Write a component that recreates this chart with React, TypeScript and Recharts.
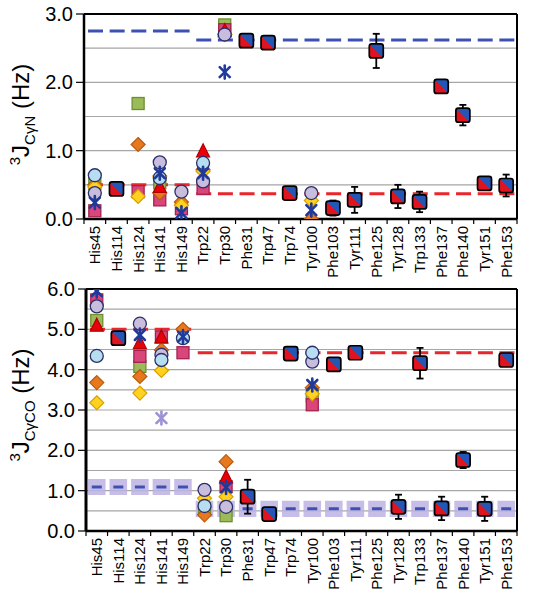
import React from 'react';
import { ScatterChart, Scatter, XAxis, YAxis, CartesianGrid, ReferenceLine, ErrorBar } from 'recharts';

const FONT = '"Liberation Sans", Arial, sans-serif';

const residues = [
  'His45', 'His114', 'His124', 'His141', 'His149', 'Trp22', 'Trp30', 'Phe31', 'Trp47', 'Trp74',
  'Tyr100', 'Phe103', 'Tyr111', 'Phe125', 'Tyr128', 'Trp133', 'Phe137', 'Phe140', 'Tyr151', 'Phe153',
];

// residues that carry the coloured per-model points
const multiResidues = ['His45', 'His124', 'His141', 'His149', 'Trp22', 'Trp30', 'Tyr100'];

type V = number | null;

// 3J(CγN) - one value per multiResidues entry
const greenN: V[] = [0.52, 1.69, 0.53, null, null, 2.84, null];
const crimsonN: V[] = [0.12, 0.4, 0.28, 0.15, 0.45, 2.77, null];
const orangeN: V[] = [0.5, 1.09, 0.38, 0.25, 0.72, 2.7, 0.0];
const yellowN: V[] = [0.47, 0.33, 0.63, 0.2, 0.7, 2.7, 0.27];
const redTriN: V[] = [null, null, 0.47, null, 0.99, 2.75, null];
const lavenderN: V[] = [0.38, null, 0.83, 0.4, 0.55, 2.7, 0.38];
const lightBlueN: V[] = [0.64, null, 0.6, null, 0.82, null, null];
const blueStarN: V[] = [0.24, null, 0.67, 0.09, 0.67, 2.15, 0.13];
const purpleStarN: V[] = [null, null, null, null, null, null, null];

// 3J(CγCO)
const greenCO: V[] = [5.22, 4.08, null, null, 0.55, 0.38, 3.35];
const crimsonCO: V[] = [5.73, 4.33, 4.81, 4.42, null, 1.1, 3.13];
const orangeCO: V[] = [3.68, 3.83, 4.49, 5.0, 0.4, 1.72, 3.55];
const yellowCO: V[] = [3.18, 3.42, 3.98, null, 0.81, 0.85, 3.4];
const redTriCO: V[] = [5.09, 4.66, 4.8, null, null, 1.33, null];
const lavenderCO: V[] = [5.57, 5.14, 4.37, null, 1.02, 0.6, 4.2];
const lightBlueCO: V[] = [4.34, null, 4.24, 4.78, 0.62, null, 4.42];
const blueStarCO: V[] = [5.95, 4.86, null, 4.82, null, 1.08, 3.62];
const purpleStarCO: V[] = [null, null, 2.8, null, null, null, null];

// experimental values
const expNames_N = ['His114', 'Phe31', 'Trp47', 'Trp74', 'Phe103', 'Tyr111', 'Phe125', 'Tyr128', 'Trp133', 'Phe137', 'Phe140', 'Tyr151', 'Phe153'];
const expN = [0.44, 2.61, 2.58, 0.38, 0.16, 0.28, 2.46, 0.33, 0.25, 1.94, 1.52, 0.52, 0.49];
const expErrN = [0, 0, 0, 0, 0.11, 0.19, 0.25, 0.17, 0.15, 0, 0.15, 0, 0.16];

const expNames_CO = ['His114', 'Phe31', 'Trp47', 'Trp74', 'Phe103', 'Tyr111', 'Tyr128', 'Trp133', 'Phe137', 'Phe140', 'Tyr151', 'Phe153'];
const expCO = [4.78, 0.85, 0.42, 4.4, 4.13, 4.42, 0.6, 4.16, 0.56, 1.76, 0.55, 4.24];
const expErrCO = [0, 0.42, 0, 0, 0, 0, 0.3, 0.38, 0.29, 0.2, 0.3, 0];

// averages: [His block, aromatic block]
const blueAvgN = [2.75, 2.62];
const redAvgN = [0.5, 0.37];
const redAvgCO = [5.0, 4.42];
const blueAvgCO = [1.09, 0.55];
const blueBandCO = 0.2;

const multiPoints = (vals: V[]) =>
  multiResidues
    .map((r, i) => ({ x: residues.indexOf(r) + 0.5, y: vals[i] }))
    .filter((p) => p.y !== null);

const expPoints = (names: string[], vals: number[], errs: number[]) =>
  names.map((r, i) => ({ x: residues.indexOf(r) + 0.5, y: vals[i], err: errs[i] }));

// marker shapes
const circle = (fill: string) => (p: any) => (
  <circle cx={p.cx} cy={p.cy} r={6.5} fill={fill} stroke="#2b2f6b" strokeWidth={1.3} />
);
const square = (fill: string, stroke: string) => (p: any) => (
  <rect x={p.cx - 6} y={p.cy - 6} width={12} height={12} fill={fill} stroke={stroke} strokeWidth={1.3} />
);
const diamond = (fill: string, stroke: string) => (p: any) => (
  <path d={`M${p.cx},${p.cy - 7}L${p.cx + 7},${p.cy}L${p.cx},${p.cy + 7}L${p.cx - 7},${p.cy}Z`} fill={fill} stroke={stroke} strokeWidth={1.2} />
);
const triangle = (fill: string, stroke: string) => (p: any) => (
  <path d={`M${p.cx},${p.cy - 7.5}L${p.cx + 6.5},${p.cy + 5.5}L${p.cx - 6.5},${p.cy + 5.5}Z`} fill={fill} stroke={stroke} strokeWidth={1.2} />
);
const star = (color: string) => (p: any) => {
  const s = 5;
  return (
    <g stroke={color} strokeWidth={2.6} strokeLinecap="round">
      <line x1={p.cx - s} y1={p.cy - s} x2={p.cx + s} y2={p.cy + s} />
      <line x1={p.cx - s} y1={p.cy + s} x2={p.cx + s} y2={p.cy - s} />
      <line x1={p.cx} y1={p.cy - s - 1.5} x2={p.cx} y2={p.cy + s + 1.5} />
    </g>
  );
};
const expMarker = (p: any) => {
  const h = 7;
  const { cx, cy } = p;
  return (
    <g>
      <rect x={cx - h} y={cy - h} width={2 * h} height={2 * h} rx={2.5} fill="#2457b5" />
      <path d={`M${cx - h},${cy - h}L${cx + h},${cy + h}L${cx - h},${cy + h}Z`} fill="#e0141e" />
      <rect x={cx - h} y={cy - h} width={2 * h} height={2 * h} rx={2.5} fill="none" stroke="#000" strokeWidth={1.7} />
    </g>
  );
};

const XTick = (p: any) => {
  const i = p.payload.value;
  if (i >= residues.length) return <g />;
  return (
    <text
      transform={`translate(${p.x + p.step / 2},${p.y}) rotate(-90)`}
      textAnchor="end"
      dy="0.36em"
      fontSize={15}
      fontFamily={FONT}
      fill="#000"
    >
      {residues[i]}
    </text>
  );
};

const yTitle = (sub: string, cyOffset: number) => (props: any) => {
  const vb = props.viewBox;
  const cy = vb.y + vb.height / 2 + cyOffset;
  return (
    <text transform={`translate(29,${cy}) rotate(-90)`} textAnchor="middle" fontSize={24} fontFamily={FONT} fill="#000">
      <tspan fontSize={15} dy={-9}>3</tspan>
      <tspan dy={9}>J</tspan>
      <tspan fontSize={15} dy={6}>{sub}</tspan>
      <tspan dy={-6}> (Hz)</tspan>
    </text>
  );
};

const xTicks = Array.from({ length: 21 }, (_, i) => i);
const W = 535;
const RIGHT = 18;

const Panel = ({ cfg }: { cfg: any }) => {
  const plotW = W - cfg.left - RIGHT;
  const step = plotW / 20;
  const plotH = cfg.height - cfg.marginTop - cfg.xHeight;
  const ppu = plotH / cfg.yMax;
  const lineDash = `15 ${step - 15}`;
  const lineOffset = step - 4;
  return (
    <ScatterChart width={W} height={cfg.height} margin={{ top: cfg.marginTop, right: RIGHT, bottom: 0, left: 0 }}>
      <CartesianGrid horizontal vertical={false} horizontalValues={cfg.grid} stroke="#a6a6a6" strokeWidth={1.2} />
      <XAxis
        type="number"
        dataKey="x"
        domain={[0, 20]}
        ticks={xTicks}
        interval={0}
        height={cfg.xHeight}
        tick={(p: any) => <XTick {...p} step={step} />}
        tickSize={5}
        tickMargin={2}
        axisLine={{ stroke: '#000', strokeWidth: 2.5 }}
        tickLine={{ stroke: '#000', strokeWidth: 1.2 }}
        allowDataOverflow
      />
      <YAxis
        type="number"
        dataKey="y"
        domain={[0, cfg.yMax]}
        ticks={cfg.yTicks}
        interval={0}
        width={cfg.left}
        tickFormatter={(v: number) => v.toFixed(1)}
        tick={{ fill: '#000', fontSize: 20, fontFamily: FONT }}
        tickSize={8}
        tickMargin={3}
        axisLine={{ stroke: '#000', strokeWidth: cfg.axisW }}
        tickLine={{ stroke: '#000', strokeWidth: 1.2 }}
        label={yTitle(cfg.sub, cfg.titleShift)}
        allowDataOverflow
      />
      <ReferenceLine y={cfg.yMax} stroke="#000" strokeWidth={2} />
      <ReferenceLine x={20} stroke="#000" strokeWidth={2} />
      {cfg.band &&
        cfg.blue.map((v: number, k: number) => (
          <ReferenceLine
            key={'band' + k}
            segment={[{ x: k === 0 ? 0 : 5, y: v }, { x: k === 0 ? 5 : 20, y: v }]}
            stroke="#bdb3e4"
            strokeOpacity={0.85}
            strokeWidth={2 * cfg.band * ppu}
            strokeDasharray={`${step - 4} 4`}
            strokeDashoffset={step - 2}
          />
        ))}
      {cfg.blue.map((v: number, k: number) => (
        <ReferenceLine
          key={'blue' + k}
          segment={[{ x: k === 0 ? 0 : 5, y: v }, { x: k === 0 ? 5 : 20, y: v }]}
          stroke="#3f50b5"
          strokeWidth={3}
          strokeDasharray={cfg.band ? `10 ${step - 10}` : lineDash}
          strokeDashoffset={cfg.band ? 10 + (step - 10) / 2 : lineOffset}
        />
      ))}
      {cfg.red.map((v: number, k: number) => (
        <ReferenceLine
          key={'red' + k}
          segment={[{ x: k === 0 ? 0 : 5, y: v }, { x: k === 0 ? 5 : 20, y: v }]}
          stroke="#e8262b"
          strokeWidth={3}
          strokeDasharray={lineDash}
          strokeDashoffset={lineOffset}
        />
      ))}
      <Scatter data={multiPoints(cfg.green)} shape={square('#9bbb59', '#6e8e2f')} isAnimationActive={false} />
      <Scatter data={multiPoints(cfg.crimson)} shape={square('#d9467a', '#a3224f')} isAnimationActive={false} />
      <Scatter data={multiPoints(cfg.orange)} shape={diamond('#e8781e', '#b85a10')} isAnimationActive={false} />
      <Scatter data={multiPoints(cfg.yellow)} shape={diamond('#ffd21f', '#d9a000')} isAnimationActive={false} />
      <Scatter data={multiPoints(cfg.redTri)} shape={triangle('#e8000b', '#b00000')} isAnimationActive={false} />
      <Scatter data={multiPoints(cfg.lavender)} shape={circle('#c9bddd')} isAnimationActive={false} />
      <Scatter data={multiPoints(cfg.lightBlue)} shape={circle('#b7ddf0')} isAnimationActive={false} />
      <Scatter data={multiPoints(cfg.blueStar)} shape={star('#1f3a9a')} isAnimationActive={false} />
      <Scatter data={multiPoints(cfg.purpleStar)} shape={star('#9c92d6')} isAnimationActive={false} />
      <Scatter data={cfg.exp} shape={expMarker} isAnimationActive={false}>
        <ErrorBar dataKey="err" direction="y" width={3.5} stroke="#000" strokeWidth={1.8} />
      </Scatter>
    </ScatterChart>
  );
};

const topCfg = {
  height: 280, marginTop: 14, xHeight: 61, left: 84, axisW: 2.5,
  yMax: 3, yTicks: [0, 1, 2, 3], grid: [0.5, 1, 1.5, 2, 2.5],
  sub: 'CγN', titleShift: -2,
  blue: blueAvgN, red: redAvgN, band: 0,
  green: greenN, crimson: crimsonN, orange: orangeN, yellow: yellowN, redTri: redTriN,
  lavender: lavenderN, lightBlue: lightBlueN, blueStar: blueStarN, purpleStar: purpleStarN,
  exp: expPoints(expNames_N, expN, expErrN),
};

const bottomCfg = {
  height: 341, marginTop: 29, xHeight: 70, left: 86, axisW: 3,
  yMax: 6, yTicks: [0, 1, 2, 3, 4, 5, 6], grid: [0.5, 1, 1.5, 2, 2.5, 3, 3.5, 4, 4.5, 5, 5.5],
  sub: 'CγCO', titleShift: -5,
  blue: blueAvgCO, red: redAvgCO, band: blueBandCO,
  green: greenCO, crimson: crimsonCO, orange: orangeCO, yellow: yellowCO, redTri: redTriCO,
  lavender: lavenderCO, lightBlue: lightBlueCO, blueStar: blueStarCO, purpleStar: purpleStarCO,
  exp: expPoints(expNames_CO, expCO, expErrCO),
};

export default function App() {
  return (
    <div style={{ position: 'absolute', left: 0, top: 0, width: 535, height: 601, background: '#fff' }}>
      <div style={{ position: 'absolute', left: 0, top: 0 }}>
        <Panel cfg={topCfg} />
      </div>
      <div style={{ position: 'absolute', left: 0, top: 260 }}>
        <Panel cfg={bottomCfg} />
      </div>
    </div>
  );
}
